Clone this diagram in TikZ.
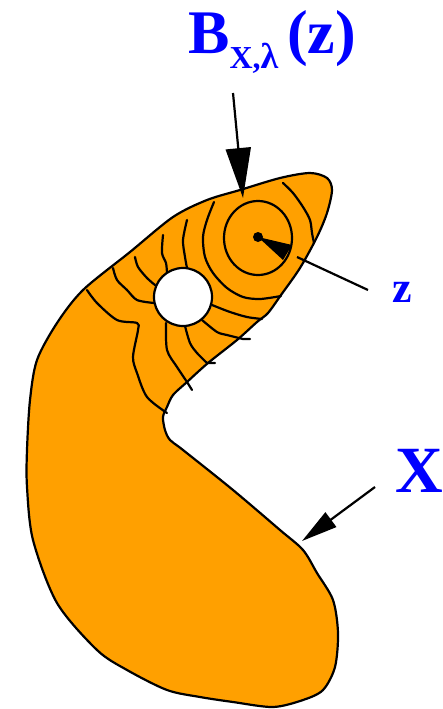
\documentclass[tikz,border=0pt]{standalone}
\usepackage{fontspec}
\setmainfont{Liberation Serif}
\usepackage{xcolor}
\usetikzlibrary{arrows.meta}
\definecolor{blobfill}{RGB}{255,160,0}

\begin{document}
\begin{tikzpicture}[x=1pt, y=-1pt,
  region/.style={draw, line width=2.2pt, fill=blobfill, line join=round},
  contour/.style={line width=2.2pt, line cap=round, line join=round},
  lbl/.style={text=blue, font=\bfseries, inner sep=0pt, anchor=base west},
  pointer/.style={line width=2.2pt},
]
  \useasboundingbox (0,0) rectangle (443,709);

  % The set X.
  \draw[region] plot[smooth cycle, tension=0.5] coordinates {
    (310,173) (327,178) (332,190) (327,213) (317,237) (300,268) (281,295)
    (268,313) (257,322) (237,340) (208,363) (187,382) (173,395) (167,407)
    (163,417) (165,430) (170,440) (183,450) (233,490) (280,530) (303,550)
    (317,573) (333,600) (338,633) (335,667) (323,690) (303,700) (273,707)
    (233,702) (200,697) (167,690) (127,670) (97,650) (57,603) (33,540)
    (27,487) (27,450) (30,400) (37,360) (57,323) (83,290) (130,252)
    (173,217) (207,200) (240,190) (280,178)};

  % Level lines round z, cut by the hole.
  \draw[contour] plot[smooth, tension=0.5] coordinates {
    (283,183) (293,193) (303,207) (310,220) (312,233) (314,243)};
  \draw[contour] plot[smooth, tension=0.5] coordinates {
    (214,202) (207,220) (203,237) (205,257) (213,273) (227,288) (243,297)
    (260,299) (281,296)};
  \draw[contour] plot[smooth, tension=0.5] coordinates {
    (187,220) (183,240) (185,257) (187,268)};
  \draw[contour] plot[smooth, tension=0.5] coordinates {
    (212,305) (230,312) (247,317) (262,319)};
  \draw[contour] plot[smooth, tension=0.5] coordinates {
    (163,235) (162,253) (166,263) (167,273)};
  \draw[contour] plot[smooth, tension=0.5] coordinates {
    (202,320) (217,332) (227,335) (243,339)} -- ++(7,0);
  \draw[contour] plot[smooth, tension=0.5] coordinates {
    (135,257) (138,267) (147,278) (155,285)};
  \draw[contour] plot[smooth, tension=0.5] coordinates {
    (185,326) (190,343) (197,353) (207,363)} -- ++(8,0);
  \draw[contour] plot[smooth, tension=0.5] coordinates {
    (113,268) (117,280) (127,290) (137,300) (154,303)};
  \draw[contour] plot[smooth, tension=0.5] coordinates {
    (166,323) (167,350) (177,367) (187,382) (192,390)};
  \draw[contour] plot[smooth, tension=0.5] coordinates {
    (87,290) (97,303) (117,320) (137,323) (138,330) (133,357) (137,373)
    (147,397) (167,413)};

  % Ball and hole.
  \draw[contour] (258,238) ellipse [x radius=34pt, y radius=37pt];
  \draw[contour, fill=white] (183,297) circle [radius=29pt];

  % The point z.
  \node[circle, fill, inner sep=0pt, minimum size=10pt] (zpt) at (258,237) {};
  \fill (zpt.center) -- (292,245) -- (283,260) -- cycle;

  % Labels.
  \node[lbl] (blabel) at (188,53)
    {\fontsize{62}{62}\selectfont B\raisebox{-15pt}{\fontsize{32}{32}\selectfont X,\fontsize{36}{36}\selectfont λ}\hspace{9pt}(z)};
  \node[lbl] (zlabel) at (392,302) {\fontsize{44}{44}\selectfont z};
  \node[lbl] (xlabel) at (395,492) {\fontsize{66}{66}\selectfont X};

  % Pointers.
  \coordinate (bstart) at (233,93);
  \coordinate (btip) at (243,198);
  \draw[pointer, -{Triangle[length=50pt, width=25pt]}] (bstart) -- (btip);
  \coordinate (zfrom) at (297,257);
  \coordinate (zto) at (368,290);
  \draw[pointer] (zfrom) -- (zto);
  \coordinate (xstart) at (375,487);
  \coordinate (xtip) at (302,541);
  \draw[pointer, -{Triangle[length=36pt, width=18pt]}] (xstart) -- (xtip);
\end{tikzpicture}
\end{document}
